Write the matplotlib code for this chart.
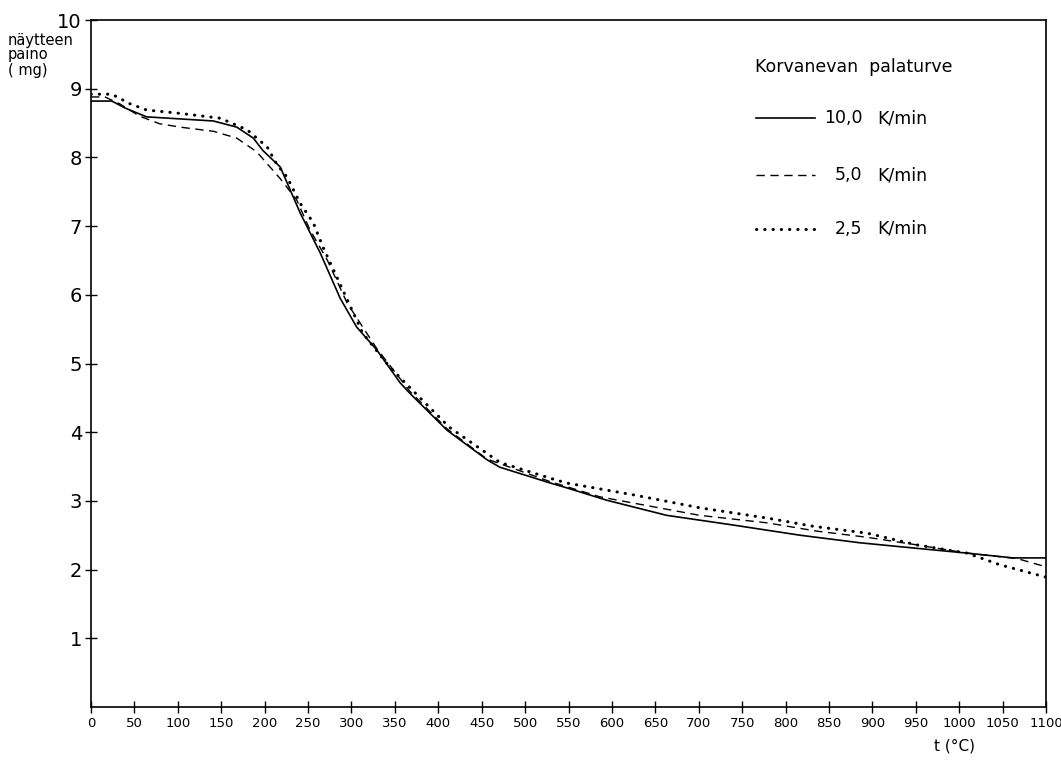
import matplotlib
matplotlib.use("Agg")
import matplotlib.pyplot as plt
import numpy as np

# temperatures (degC) and sample mass (mg)
t_10 = [0, 24, 39, 64, 103, 141, 168, 187, 198, 218, 241, 264, 287, 306, 329,
        356, 367, 410, 456, 471, 529, 548, 594, 663, 739, 817, 886, 951, 1009,
        1062, 1100]
m_10 = [8.82, 8.82, 8.72, 8.59, 8.56, 8.53, 8.44, 8.28, 8.10, 7.86, 7.19, 6.61,
        5.95, 5.53, 5.20, 4.72, 4.57, 4.03, 3.60, 3.49, 3.26, 3.19, 3.01, 2.79,
        2.65, 2.50, 2.39, 2.31, 2.24, 2.17, 2.17]

t_5 = [0, 16, 33, 56, 79, 103, 141, 168, 191, 218, 237, 252, 272, 295, 329,
       367, 410, 456, 529, 586, 624, 701, 779, 836, 894, 951, 1009, 1067, 1100]
m_5 = [8.88, 8.88, 8.78, 8.60, 8.49, 8.44, 8.38, 8.28, 8.08, 7.69, 7.38, 6.95,
       6.51, 5.88, 5.22, 4.60, 4.05, 3.61, 3.28, 3.06, 2.97, 2.79, 2.68, 2.56,
       2.47, 2.36, 2.24, 2.16, 2.04]

t_25 = [0, 24, 45, 64, 103, 149, 180, 203, 214, 226, 241, 256, 267, 290, 313,
        344, 379, 413, 471, 529, 548, 624, 701, 779, 832, 894, 951, 1009, 1047,
        1100]
m_25 = [8.92, 8.92, 8.78, 8.69, 8.64, 8.57, 8.40, 8.15, 7.90, 7.71, 7.33, 7.05,
        6.70, 6.07, 5.44, 4.95, 4.50, 4.07, 3.56, 3.33, 3.26, 3.09, 2.90, 2.75,
        2.63, 2.53, 2.36, 2.24, 2.07, 1.89]

x_ticks = list(range(0, 1101, 50))
y_ticks = list(range(1, 11))

rates = ["10,0", "5,0", "2,5"]
legend_title = "Korvanevan  palaturve"

fig = plt.figure(figsize=(10.61, 7.60), dpi=100)
ax = fig.add_axes([91 / 1061, 53 / 760, 955 / 1061, 687 / 760])

solid = dict(color="black", lw=1.2, linestyle="-")
dashed = dict(color="black", lw=1.0, linestyle=(0, (6, 4)))
dotted = dict(color="black", lw=2.2, linestyle=(0, (0.1, 2.6)),
              dash_capstyle="round")

ax.plot(t_10, m_10, **solid)
ax.plot(t_5, m_5, **dashed)
ax.plot(t_25, m_25, **dotted)

ax.set_xlim(0, 1100)
ax.set_ylim(0, 10)
ax.set_xticks(x_ticks)
ax.set_xticklabels([str(v) for v in x_ticks], fontsize=9.5)
ax.set_yticks(y_ticks)
ax.set_yticklabels([str(v) for v in y_ticks], fontsize=14)
ax.tick_params(direction="inout", length=9, width=1, colors="black", pad=3)
ax.tick_params(axis="y", pad=2)
for s in ax.spines.values():
    s.set_linewidth(1.2)

# axis labels placed as in the original drawing
fig.text(8 / 1061, 1 - 55 / 760, "näytteen\npaino\n( mg)", fontsize=10.5,
         ha="left", va="center", linespacing=1.0)
fig.text(955 / 1061, 1 - 746 / 760, "t (°C)", fontsize=11, ha="center",
         va="center")

# hand-made legend
ax.text(0.695, 0.932, legend_title, transform=ax.transAxes, fontsize=12.5,
        va="center", ha="left")
legend_y = [0.857, 0.774, 0.696]
for rate, y, style in zip(rates, legend_y, [solid, dashed, dotted]):
    ax.plot([0.696, 0.758], [y, y], transform=ax.transAxes, **style)
    ax.text(0.808, y, rate, transform=ax.transAxes, fontsize=12.5,
            va="center", ha="right")
    ax.text(0.823, y, "K/min", transform=ax.transAxes, fontsize=12.5,
            va="center", ha="left")

fig.savefig("out.png", dpi=100)
